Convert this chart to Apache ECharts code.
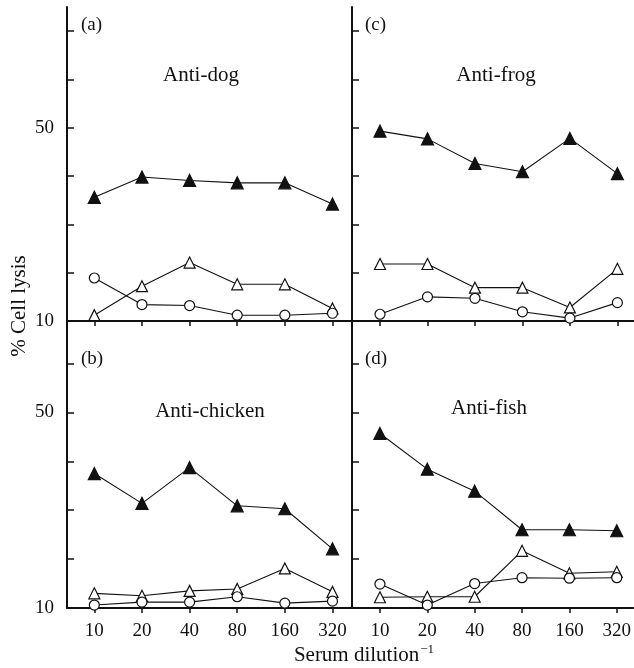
<!DOCTYPE html>
<html>
<head>
<meta charset="utf-8">
<script src="https://cdn.jsdelivr.net/npm/echarts@6/dist/echarts.min.js"></script>
<style>html,body{margin:0;padding:0;background:#fff}#c{width:634px;height:668px}</style>
</head>
<body>
<div id="c"></div>
<script>
// Categories (serum dilution^-1)
var dilutions = ['10', '20', '40', '80', '160', '320'];
var yTickLabels = [10, 50];
var yTicks = [10, 20, 30, 40, 50, 60, 70];

// Panel (a) Anti-dog
var dogFilled = [35.6, 39.8, 39.1, 38.6, 38.6, 34.2];
var dogOpenTri = [11.2, 17.2, 22.1, 17.6, 17.6, 12.6];
var dogCircle = [18.9, 13.4, 13.2, 11.2, 11.2, 11.6];
// Panel (b) Anti-chicken
var chickenFilled = [37.5, 31.4, 38.7, 30.9, 30.3, 22.1];
var chickenOpenTri = [13.0, 12.5, 13.5, 13.9, 18.1, 13.3];
var chickenCircle = [10.6, 11.2, 11.2, 12.3, 11.0, 11.4];
// Panel (c) Anti-frog
var frogFilled = [49.3, 47.7, 42.6, 40.9, 47.8, 40.5];
var frogOpenTri = [21.8, 21.8, 16.9, 16.9, 12.8, 20.8];
var frogCircle = [11.4, 15.0, 14.7, 11.9, 10.6, 13.8];
// Panel (d) Anti-fish
var fishFilled = [45.7, 38.4, 33.9, 26.0, 26.0, 25.8];
var fishOpenTri = [12.2, 12.3, 12.3, 21.7, 17.1, 17.4];
var fishCircle = [14.9, 10.6, 15.0, 16.2, 16.1, 16.2];

var panelTitles = ['Anti-dog', 'Anti-chicken', 'Anti-frog', 'Anti-fish'];
var panelLetters = ['(a)', '(b)', '(c)', '(d)'];

var FONT = "'Liberation Serif', 'DejaVu Serif', serif";
var INK = '#111';

function pts(arr) { return arr.map(function (v, i) { return [i, v]; }); }

var grids = [
  {left: 67, top: 7, width: 285, height: 314},
  {left: 67, top: 321, width: 285, height: 287},
  {left: 352, top: 7, width: 282, height: 314},
  {left: 352, top: 321, width: 282, height: 287}
];
var xRanges = [[-0.574, 5.41], [-0.574, 5.41], [-0.59, 5.35], [-0.59, 5.35]];
var yMax = [75, 68.7, 75, 68.7];

var xAxes = grids.map(function (g, i) {
  var bottom = (i === 1 || i === 3);
  return {
    type: 'value', gridIndex: i, min: xRanges[i][0], max: xRanges[i][1],
    axisLine: {show: true, onZero: false, lineStyle: {color: INK, width: 2}},
    axisTick: {show: true, inside: false, length: 5, lineStyle: {color: INK, width: 1.5},
      customValues: [0, 1, 2, 3, 4, 5]},
    axisLabel: {show: bottom, customValues: [0, 1, 2, 3, 4, 5], margin: 14,
      fontFamily: FONT, fontSize: 19, color: INK,
      formatter: function (v) { return dilutions[Math.round(v)]; }},
    splitLine: {show: false}
  };
});
var yAxes = grids.map(function (g, i) {
  var left = (i === 0 || i === 1);
  return {
    type: 'value', gridIndex: i, min: 10, max: yMax[i],
    axisLine: {show: true, onZero: false, lineStyle: {color: INK, width: 2}},
    axisTick: {show: true, inside: true, length: 7, lineStyle: {color: INK, width: 1.5},
      customValues: yTicks.filter(function (t) { return t < yMax[i]; })},
    axisLabel: {show: left, customValues: yTickLabels, margin: 13,
      fontFamily: FONT, fontSize: 19, color: INK},
    splitLine: {show: false}
  };
});

var panelData = [
  [dogFilled, dogOpenTri, dogCircle],
  [chickenFilled, chickenOpenTri, chickenCircle],
  [frogFilled, frogOpenTri, frogCircle],
  [fishFilled, fishOpenTri, fishCircle]
];
var series = [];
panelData.forEach(function (p, i) {
  var styles = [
    {symbol: 'triangle', size: 12, fill: INK},
    {symbol: 'triangle', size: 11, fill: '#fff'},
    {symbol: 'circle', size: 10, fill: '#fff'}
  ];
  p.forEach(function (arr, k) {
    series.push({
      type: 'line', xAxisIndex: i, yAxisIndex: i, data: pts(arr),
      symbol: styles[k].symbol, symbolSize: styles[k].size, showSymbol: true,
      lineStyle: {color: INK, width: 1.1},
      itemStyle: {color: styles[k].fill, borderColor: INK, borderWidth: 1.2},
      z: 3 + k, animation: false, silent: true
    });
  });
});

var titlePos = [[201, 75], [210, 411], [496, 75], [489, 408]];
var letterPos = [[81, 25], [81, 359], [365, 25], [365, 359]];
var graphics = [];
panelTitles.forEach(function (t, i) {
  graphics.push({type: 'text', x: titlePos[i][0], y: titlePos[i][1],
    style: {text: t, font: '21px ' + FONT, fill: INK, textAlign: 'center', textVerticalAlign: 'middle'}});
  graphics.push({type: 'text', x: letterPos[i][0], y: letterPos[i][1],
    style: {text: panelLetters[i], font: '19px ' + FONT, fill: INK, textAlign: 'left', textVerticalAlign: 'middle'}});
});
graphics.push({type: 'text', x: 19, y: 306, rotation: Math.PI / 2,
  style: {text: '% Cell lysis', font: '21px ' + FONT, fill: INK, textAlign: 'center', textVerticalAlign: 'middle'}});
graphics.push({type: 'text', x: 364, y: 655,
  style: {text: 'Serum dilution{s|−1}', font: '21px ' + FONT, fill: INK, textAlign: 'center', textVerticalAlign: 'middle',
    rich: {s: {fontSize: 13, fontFamily: FONT, verticalAlign: 'top', padding: [0, 0, 11, 1], fill: INK}}}});

var chart = echarts.init(document.getElementById('c'), null, {renderer: 'canvas'});
chart.setOption({
  animation: false,
  grid: grids,
  xAxis: xAxes,
  yAxis: yAxes,
  series: series,
  graphic: graphics
});
</script>
</body>
</html>
